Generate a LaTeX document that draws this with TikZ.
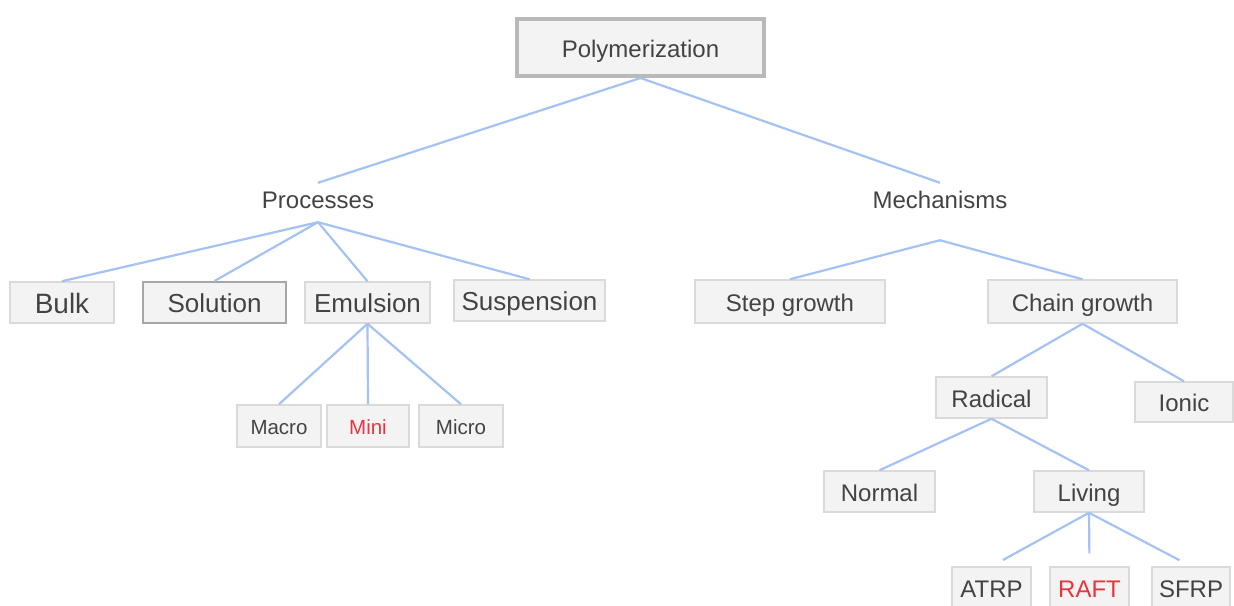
\documentclass[tikz,border=0pt]{standalone}
\usepackage{fontspec}
\setmainfont{Liberation Sans}
\usetikzlibrary{positioning}
\definecolor{linkblue}{RGB}{164,194,244}
\definecolor{boxgray}{RGB}{243,243,243}
\definecolor{edgegray}{RGB}{218,218,218}
\definecolor{textgray}{RGB}{67,67,67}
\definecolor{hotred}{RGB}{236,50,60}
\tikzset{
  box/.style={draw=edgegray,fill=boxgray,line width=1.5pt,inner sep=0pt,minimum height=41pt,text height=19pt,text depth=0pt,text=textgray,font=\fontsize{24}{28}\selectfont},
  bigbox/.style={box,text height=20.6pt,font=\fontsize{26}{30}\selectfont},
  smallbox/.style={box,minimum height=42pt,text height=16.7pt,font=\fontsize{20.5}{24}\selectfont},
  label/.style={inner sep=0pt,anchor=base,text=textgray,font=\fontsize{24}{28}\selectfont},
  link/.style={draw=linkblue,line width=2.2pt}
}
\begin{document}
\begin{tikzpicture}[x=1pt,y=-1pt]
\useasboundingbox (0,0) rectangle (1234,605);
\node[box,draw=gray!55,line width=4pt,minimum width=247pt,minimum height=57pt] (poly) at (640.5,47.5) {Polymerization};
\node[label,text height=25pt,text depth=14pt] (procs) at (318,208) {Processes};
\node[label,text height=25pt,text depth=32pt] (mechs) at (940,208) {Mechanisms};
\node[box,minimum width=104pt,text height=22pt,font=\fontsize{28}{32}\selectfont] (bulk) at (62,302.5) {Bulk};
\node[bigbox,draw=gray!70,line width=2pt,minimum width=143pt] (solution) at (214.5,302.5) {Solution};
\node[bigbox,minimum width=125pt] (emulsion) at (367.5,302.5) {Emulsion};
\node[bigbox,minimum width=151pt] (suspension) at (529.5,300.5) {Suspension};
\node[smallbox,minimum width=84pt] (macro) at (279,426) {Macro};
\node[smallbox,minimum width=82pt,text=hotred] (mini) at (368,426) {Mini};
\node[smallbox,minimum width=84pt] (micro) at (461,426) {Micro};
\node[box,minimum width=190pt,minimum height=43pt] (stepg) at (790,301.5) {Step growth};
\node[box,minimum width=189pt,minimum height=43pt] (chaing) at (1082.5,301.5) {Chain growth};
\node[box,minimum width=111pt] (radical) at (991.5,397.5) {Radical};
\node[box,minimum width=98pt,minimum height=40pt] (ionic) at (1184,402) {Ionic};
\node[box,minimum width=111pt] (normal) at (879.5,491.5) {Normal};
\node[box,minimum width=110pt] (living) at (1089,491.5) {Living};
\node[box,minimum width=79pt,minimum height=42pt] (atrp) at (991.5,588) {ATRP};
\node[box,minimum width=79pt,minimum height=42pt,text=hotred] (raft) at (1089.5,588) {RAFT};
\node[box,minimum width=78pt,minimum height=42pt] (sfrp) at (1191,588) {SFRP};
\draw[link] (procs.north) -- (poly.south) -- (mechs.north);
\foreach \kid in {bulk,solution,emulsion,suspension}
  \draw[link] (procs.south) -- (\kid.north);
\foreach \kid in {macro,mini,micro}
  \draw[link] (emulsion.south) -- (\kid.north);
\foreach \kid in {stepg,chaing}
  \draw[link] (mechs.south) -- (\kid.north);
\foreach \kid in {radical,ionic}
  \draw[link] (chaing.south) -- (\kid.north);
\foreach \kid in {normal,living}
  \draw[link] (radical.south) -- (\kid.north);
\foreach \kid in {atrp,raft,sfrp}
  \draw[link,shorten >=13pt] (living.south) -- (\kid.north);
\end{tikzpicture}
\end{document}
